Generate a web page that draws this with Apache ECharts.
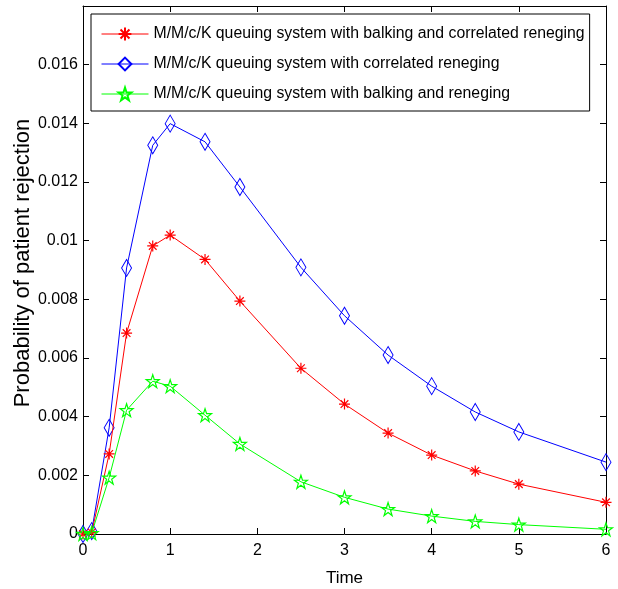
<!DOCTYPE html>
<html>
<head>
<meta charset="utf-8">
<script src="https://cdn.jsdelivr.net/npm/echarts@6/dist/echarts.min.js"></script>
<style>html,body{margin:0;padding:0;background:#fff}#c{width:618px;height:589px}</style>
</head>
<body>
<div id="c"></div>
<script>
var times = [0, 0.1, 0.3, 0.5, 0.8, 1, 1.4, 1.8, 2.5, 3, 3.5, 4, 4.5, 5, 6];
var balkCorr = [0, 0.00005, 0.00273, 0.00685, 0.00982, 0.01019, 0.00936, 0.00794, 0.00565, 0.00443, 0.00344, 0.00269, 0.00215, 0.0017, 0.00108];
var corrOnly = [0, 0.0001, 0.00362, 0.00907, 0.01325, 0.01399, 0.01337, 0.01183, 0.00909, 0.00744, 0.0061, 0.00504, 0.00416, 0.00348, 0.00245];
var balkReneg = [0, 0.00003, 0.00192, 0.00422, 0.00521, 0.00504, 0.00405, 0.00307, 0.00178, 0.00125, 0.00085, 0.00061, 0.00043, 0.00032, 0.00016];
var seriesNames = [
  'M/M/c/K queuing system with balking and correlated reneging',
  'M/M/c/K queuing system with correlated reneging',
  'M/M/c/K queuing system with balking and reneging'
];
var xTitle = 'Time';
var yTitle = 'Probability of patient rejection';

function pairs(v){ return times.map(function(t,i){ return [t, v[i]]; }); }
var FONT = 'Liberation Sans';
var asterisk = 'path://M0 5L10 5M5 0L5 10M1.5 1.5L8.5 8.5M1.5 8.5L8.5 1.5';
var star = 'path://M50 0L61.8 35.4L99 35.4L69.1 57.3L80.3 92.7L50 70.8L19.7 92.7L30.9 57.3L1 35.4L38.2 35.4Z';

function yFmt(v){
  if (Math.abs(v - 0.018) < 1e-9) return '';
  return String(parseFloat(v.toFixed(4)));
}

var chart = echarts.init(document.getElementById('c'), null, {renderer:'canvas'});
var grid = {left:83, right:12, top:6, bottom:55, containLabel:false, outerBoundsMode:'none'};
var axisCommon = {
  axisLine:{show:true, onZero:false, lineStyle:{color:'#000', width:1}},
  axisTick:{show:true, inside:true, length:6, lineStyle:{color:'#000'}},
  splitLine:{show:false}
};
chart.setOption({
  animation:false,
  backgroundColor:'#fff',
  grid:grid,
  legend:{
    orient:'vertical', left:91, top:14,
    borderColor:'#000', borderWidth:1, backgroundColor:'#fff',
    padding:[12,5,9,10], itemGap:14, itemWidth:47, itemHeight:16,
    textStyle:{fontFamily:FONT, fontSize:15.8, color:'#000'},
    lineStyle:{width:1},
    data:seriesNames
  },
  xAxis:[
    Object.assign({type:'value', min:0, max:6, interval:1, position:'bottom',
      name:xTitle, nameLocation:'middle', nameGap:36, nameMoveOverlap:false,
      nameTextStyle:{fontFamily:FONT, fontSize:17, color:'#000'},
      axisLabel:{fontFamily:FONT, fontSize:16, color:'#000', margin:9}}, axisCommon),
    Object.assign({type:'value', min:0, max:6, interval:1, position:'top',
      axisLabel:{show:false}}, axisCommon)
  ],
  yAxis:[
    Object.assign({type:'value', min:0, max:0.018, interval:0.002, position:'left',
      name:yTitle, nameLocation:'middle', nameGap:49, nameMoveOverlap:false,
      nameTextStyle:{fontFamily:FONT, fontSize:22, color:'#000', padding:[0,0,0,14]},
      axisLabel:{fontFamily:FONT, fontSize:16, color:'#000', margin:5, formatter:yFmt}}, axisCommon),
    Object.assign({type:'value', min:0, max:0.018, interval:0.002, position:'right',
      axisLabel:{show:false}}, axisCommon)
  ],
  series:[
    {name:seriesNames[0], type:'line', data:pairs(balkCorr),
     symbol:asterisk, symbolSize:11, showAllSymbol:true,
     lineStyle:{color:'#ff0000', width:1},
     itemStyle:{color:'rgba(0,0,0,0)', borderColor:'#ff0000', borderWidth:1.2}, z:3},
    {name:seriesNames[1], type:'line', data:pairs(corrOnly),
     symbol:'diamond', symbolSize:[10,17], showAllSymbol:true,
     lineStyle:{color:'#0000ff', width:1},
     itemStyle:{color:'rgba(0,0,0,0)', borderColor:'#0000ff', borderWidth:1}, z:2},
    {name:seriesNames[2], type:'line', data:pairs(balkReneg),
     symbol:star, symbolSize:13, showAllSymbol:true,
     lineStyle:{color:'#00ff00', width:1},
     itemStyle:{color:'rgba(0,0,0,0)', borderColor:'#00ff00', borderWidth:1.2}, z:4}
  ]
});
</script>
</body>
</html>
